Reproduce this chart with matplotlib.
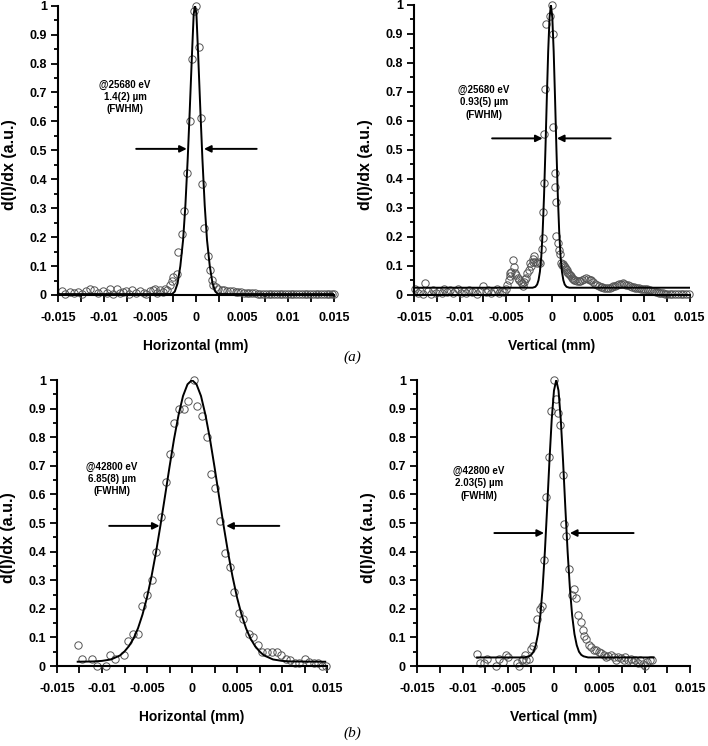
import numpy as np
import matplotlib.pyplot as plt
from matplotlib.ticker import MultipleLocator

plt.rcParams['font.family'] = ['Liberation Sans', 'DejaVu Sans']

# ---- (a) horizontal, 25680 eV: measured points (x mm, dI/dx) and fit
tl_pts = [(-0.0146, 0.015), (-0.0142, 0.005), (-0.0137, 0.011), (-0.0133, 0.006), (-0.0128, 0.011),
          (-0.0124, 0.004), (-0.0120, 0.015), (-0.0115, 0.021), (-0.0111, 0.018), (-0.0106, 0.008),
          (-0.0101, 0.014), (-0.0097, 0.008), (-0.0093, 0.020), (-0.0090, 0.005), (-0.0086, 0.021),
          (-0.0083, 0.006), (-0.0079, 0.011), (-0.0076, 0.015), (-0.0073, 0.004), (-0.0069, 0.018),
          (-0.0065, 0.008), (-0.0061, 0.015), (-0.0057, 0.008), (-0.0054, 0.004), (-0.0050, 0.012),
          (-0.0047, 0.018), (-0.0045, 0.021), (-0.0042, 0.006), (-0.0039, 0.018), (-0.0036, 0.010),
          (-0.0034, 0.022), (-0.0031, 0.018), (-0.0028, 0.035), (-0.00265, 0.050), (-0.0025, 0.062),
          (-0.0021, 0.073), (-0.0019, 0.150), (-0.00155, 0.210), (-0.0013, 0.290), (-0.0010, 0.420),
          (-0.0007, 0.600), (-0.0004, 0.817), (-0.0002, 0.980), (0.0000, 1.000), (0.0003, 0.856),
          (0.0005, 0.610), (0.0007, 0.385), (0.0009, 0.230), (0.0013, 0.135), (0.0015, 0.088),
          (0.0017, 0.052), (0.0019, 0.035), (0.0022, 0.027), (0.0024, 0.022), (0.0028, 0.018),
          (0.0031, 0.016), (0.0034, 0.015), (0.0037, 0.013), (0.0040, 0.012), (0.0043, 0.011),
          (0.0046, 0.010), (0.0049, 0.009), (0.0052, 0.008), (0.0055, 0.007), (0.0058, 0.007),
          (0.0061, 0.006), (0.0064, 0.006), (0.0067, 0.005), (0.0070, 0.005), (0.0073, 0.005),
          (0.0076, 0.004), (0.0079, 0.004), (0.0082, 0.004), (0.0085, 0.004), (0.0088, 0.003),
          (0.0091, 0.003), (0.0094, 0.004), (0.0097, 0.003), (0.0100, 0.003), (0.0103, 0.003),
          (0.0106, 0.003), (0.0109, 0.002), (0.0112, 0.003), (0.0115, 0.002), (0.0118, 0.003),
          (0.0121, 0.002), (0.0124, 0.002), (0.0127, 0.003), (0.0130, 0.002), (0.0133, 0.002),
          (0.0136, 0.002), (0.0139, 0.002), (0.0142, 0.002), (0.0145, 0.002), (0.0148, 0.002),
          (0.0150, 0.002)]
tl_fit = [(-0.0150, 0.003), (-0.0026, 0.003), (-0.0023, 0.012), (-0.0020, 0.040), (-0.0017, 0.100),
          (-0.0014, 0.190), (-0.00115, 0.310), (-0.0009, 0.470), (-0.0007, 0.620), (-0.00045, 0.820),
          (-0.00025, 0.970), (-0.0001, 1.000), (0.00005, 0.970), (0.00025, 0.820), (0.0005, 0.620),
          (0.0007, 0.470), (0.00095, 0.310), (0.0012, 0.190), (0.0015, 0.100), (0.0018, 0.040),
          (0.0021, 0.012), (0.0024, 0.003), (0.0150, 0.003)]

# ---- (a) vertical, 25680 eV
tr_pts = [(-0.0149, 0.020), (-0.0146, 0.008), (-0.0143, 0.015), (-0.0140, 0.005), (-0.0138, 0.040),
          (-0.0135, 0.012), (-0.0132, 0.004), (-0.0129, 0.018), (-0.0126, 0.008), (-0.0123, 0.014),
          (-0.0120, 0.006), (-0.0117, 0.020), (-0.0114, 0.010), (-0.0111, 0.016), (-0.0108, 0.006),
          (-0.0105, 0.012), (-0.0102, 0.020), (-0.0099, 0.008), (-0.0096, 0.014), (-0.0093, 0.006),
          (-0.0090, 0.018), (-0.0087, 0.010), (-0.0084, 0.015), (-0.0081, 0.005), (-0.0078, 0.012),
          (-0.0075, 0.030), (-0.0072, 0.010), (-0.0069, 0.018), (-0.0066, 0.006), (-0.0063, 0.014),
          (-0.0060, 0.020), (-0.0057, 0.008), (-0.0054, 0.015), (-0.0052, 0.010), (-0.0050, 0.020),
          (-0.0049, 0.035), (-0.0047, 0.050), (-0.0046, 0.065), (-0.0045, 0.075), (-0.0044, 0.080),
          (-0.0042, 0.120), (-0.0041, 0.095), (-0.0040, 0.075), (-0.0039, 0.070), (-0.0037, 0.060),
          (-0.0036, 0.050), (-0.0034, 0.045), (-0.0033, 0.040), (-0.0031, 0.030), (-0.0030, 0.045),
          (-0.0029, 0.055), (-0.0028, 0.060), (-0.0027, 0.075), (-0.0025, 0.085), (-0.0024, 0.110),
          (-0.0023, 0.100), (-0.0021, 0.115), (-0.0020, 0.125), (-0.0019, 0.135), (-0.0018, 0.115),
          (-0.0016, 0.110), (-0.0014, 0.115), (-0.0013, 0.110), (-0.0011, 0.160), (-0.0010, 0.195),
          (-0.0010, 0.285), (-0.0009, 0.387), (-0.0008, 0.555), (-0.0007, 0.710), (-0.0006, 0.933),
          (-0.0002, 0.963), (0.0000, 1.000), (0.00015, 0.899), (0.00015, 0.578), (0.0003, 0.372),
          (0.00037, 0.420), (0.0005, 0.320), (0.0005, 0.205), (0.0007, 0.180), (0.0008, 0.155),
          (0.0009, 0.140), (0.0010, 0.110), (0.0011, 0.105), (0.0012, 0.108), (0.0013, 0.100),
          (0.0014, 0.095), (0.0015, 0.090), (0.0016, 0.086), (0.0017, 0.080), (0.0018, 0.075),
          (0.0019, 0.072), (0.0020, 0.070), (0.0021, 0.064), (0.0022, 0.060), (0.0023, 0.056),
          (0.0024, 0.053), (0.0025, 0.052), (0.0027, 0.049), (0.0029, 0.047), (0.0031, 0.048),
          (0.0033, 0.051), (0.0035, 0.055), (0.0037, 0.058), (0.0039, 0.056), (0.0041, 0.053),
          (0.0043, 0.050), (0.0045, 0.045), (0.0047, 0.038), (0.0049, 0.034), (0.0051, 0.031),
          (0.0053, 0.028), (0.0055, 0.027), (0.0057, 0.025), (0.0059, 0.024), (0.0061, 0.023),
          (0.0063, 0.025), (0.0065, 0.027), (0.0067, 0.030), (0.0069, 0.032), (0.0071, 0.035),
          (0.0073, 0.037), (0.0075, 0.039), (0.0077, 0.040), (0.0079, 0.039), (0.0081, 0.036),
          (0.0083, 0.033), (0.0085, 0.030), (0.0087, 0.028), (0.0089, 0.027), (0.0091, 0.025),
          (0.0093, 0.024), (0.0095, 0.023), (0.0097, 0.022), (0.0099, 0.022), (0.0101, 0.021),
          (0.0103, 0.020), (0.0105, 0.018), (0.0107, 0.016), (0.0109, 0.014), (0.0111, 0.012),
          (0.0113, 0.011), (0.0115, 0.009), (0.0117, 0.008), (0.0119, 0.007), (0.0121, 0.006),
          (0.0123, 0.005), (0.0125, 0.005), (0.0128, 0.004), (0.0131, 0.004), (0.0134, 0.003),
          (0.0137, 0.003), (0.0140, 0.003), (0.0143, 0.002), (0.0146, 0.002), (0.0149, 0.002)]
tr_fit = [(-0.0150, 0.025), (-0.0021, 0.025), (-0.0018, 0.028), (-0.0016, 0.036), (-0.00145, 0.051),
          (-0.0013, 0.080), (-0.00115, 0.132), (-0.0010, 0.218), (-0.00085, 0.342), (-0.0007, 0.500),
          (-0.00055, 0.675), (-0.0004, 0.839), (-0.00025, 0.957), (-0.0001, 1.000), (0.00005, 0.957),
          (0.0002, 0.839), (0.00035, 0.675), (0.0005, 0.500), (0.00065, 0.342), (0.0008, 0.218),
          (0.00095, 0.132), (0.0011, 0.080), (0.00125, 0.051), (0.0014, 0.036), (0.0016, 0.028),
          (0.0019, 0.025), (0.0150, 0.025)]

# ---- (b) horizontal, 42800 eV
bl_pts = [(-0.0127, 0.075), (-0.0122, 0.026), (-0.0111, 0.026), (-0.0106, 0.000), (-0.0096, 0.000),
          (-0.0091, 0.038), (-0.0086, 0.024), (-0.0076, 0.038), (-0.0071, 0.088), (-0.0066, 0.111),
          (-0.0060, 0.111), (-0.0056, 0.210), (-0.0050, 0.249), (-0.0045, 0.300), (-0.0040, 0.400),
          (-0.0034, 0.520), (-0.0029, 0.643), (-0.0024, 0.740), (-0.0020, 0.850), (-0.0014, 0.900),
          (-0.0009, 0.900), (-0.0004, 0.925), (0.0002, 1.000), (0.0006, 0.910), (0.0011, 0.875),
          (0.0017, 0.800), (0.0021, 0.673), (0.0026, 0.623), (0.0031, 0.506), (0.0037, 0.395),
          (0.0042, 0.346), (0.0047, 0.258), (0.0052, 0.186), (0.0057, 0.163), (0.0063, 0.113),
          (0.0068, 0.100), (0.0073, 0.075), (0.0078, 0.050), (0.0083, 0.050), (0.0089, 0.050),
          (0.0094, 0.050), (0.0099, 0.037), (0.0104, 0.026), (0.0109, 0.020), (0.0114, 0.012),
          (0.0119, 0.012), (0.0125, 0.026), (0.0130, 0.015), (0.0135, 0.012), (0.0140, 0.012),
          (0.0144, 0.000), (0.0149, 0.000)]
bl_fit = [(-0.0127, 0.015), (-0.0110, 0.016), (-0.0100, 0.018), (-0.0090, 0.023), (-0.0080, 0.037),
          (-0.0075, 0.051), (-0.0070, 0.070), (-0.0065, 0.096), (-0.0060, 0.132), (-0.0055, 0.180),
          (-0.0050, 0.240), (-0.0045, 0.313), (-0.0040, 0.398), (-0.0035, 0.493), (-0.0030, 0.594),
          (-0.0025, 0.696), (-0.0020, 0.793), (-0.0015, 0.877), (-0.0010, 0.944), (-0.0005, 0.985),
          (0.0000, 1.000), (0.0005, 0.985), (0.0010, 0.944), (0.0015, 0.877), (0.0020, 0.793),
          (0.0025, 0.696), (0.0030, 0.594), (0.0035, 0.493), (0.0040, 0.398), (0.0045, 0.313),
          (0.0050, 0.240), (0.0055, 0.180), (0.0060, 0.132), (0.0065, 0.096), (0.0070, 0.070),
          (0.0075, 0.051), (0.0080, 0.037), (0.0090, 0.023), (0.0100, 0.018), (0.0110, 0.016),
          (0.0148, 0.015)]

# ---- (b) vertical, 42800 eV
br_pts = [(-0.0084, 0.042), (-0.0081, 0.010), (-0.0076, 0.012), (-0.0073, 0.025), (-0.0063, 0.000),
          (-0.0060, 0.025), (-0.0056, 0.015), (-0.0052, 0.040), (-0.0050, 0.030), (-0.0040, 0.012),
          (-0.0038, 0.000), (-0.0035, 0.020), (-0.0033, 0.025), (-0.0031, 0.040), (-0.0030, 0.020),
          (-0.0027, 0.025), (-0.0025, 0.060), (-0.0022, 0.070), (-0.0018, 0.163), (-0.0015, 0.200),
          (-0.0013, 0.210), (-0.0010, 0.370), (-0.0008, 0.590), (-0.0005, 0.730), (-0.0003, 0.890),
          (0.0000, 1.000), (0.0003, 0.935), (0.0005, 0.883), (0.0007, 0.843), (0.0010, 0.667),
          (0.0012, 0.495), (0.0014, 0.455), (0.0017, 0.340), (0.0020, 0.250), (0.0022, 0.268),
          (0.0025, 0.238), (0.0027, 0.180), (0.0030, 0.153), (0.0032, 0.125), (0.0034, 0.105),
          (0.0036, 0.093), (0.0039, 0.075), (0.0041, 0.065), (0.0044, 0.056), (0.0047, 0.055),
          (0.0050, 0.050), (0.0052, 0.045), (0.0055, 0.040), (0.0058, 0.030), (0.0060, 0.035),
          (0.0063, 0.040), (0.0066, 0.030), (0.0069, 0.022), (0.0071, 0.030), (0.0074, 0.027),
          (0.0077, 0.022), (0.0079, 0.030), (0.0082, 0.022), (0.0085, 0.025), (0.0087, 0.015),
          (0.0090, 0.022), (0.0093, 0.012), (0.0095, 0.022), (0.0098, 0.008), (0.0100, 0.000),
          (0.0103, 0.015), (0.0106, 0.022), (0.0108, 0.022)]
br_fit = [(-0.0084, 0.030), (-0.0032, 0.030), (-0.0027, 0.034), (-0.00245, 0.039), (-0.0022, 0.050),
          (-0.00195, 0.073), (-0.0017, 0.112), (-0.00145, 0.176), (-0.0012, 0.272), (-0.00095, 0.400),
          (-0.0007, 0.553), (-0.00045, 0.716), (-0.0002, 0.861), (0.00005, 0.963), (0.0003, 1.000),
          (0.00055, 0.963), (0.0008, 0.861), (0.00105, 0.716), (0.0013, 0.553), (0.00155, 0.400),
          (0.0018, 0.272), (0.00205, 0.176), (0.0023, 0.112), (0.00255, 0.073), (0.0028, 0.050),
          (0.00305, 0.039), (0.0033, 0.034), (0.0038, 0.030), (0.0110, 0.030)]

xtick_vals = [-0.015, -0.01, -0.005, 0, 0.005, 0.01, 0.015]
xtick_txt = ['-0.015', '-0.01', '-0.005', '0', '0.005', '0.01', '0.015']
ytick_vals = [0, 0.1, 0.2, 0.3, 0.4, 0.5, 0.6, 0.7, 0.8, 0.9, 1]
ytick_txt = ['0', '0.1', '0.2', '0.3', '0.4', '0.5', '0.6', '0.7', '0.8', '0.9', '1']

fig = plt.figure(figsize=(7.08, 7.46), dpi=100)


def panel(rect, pts, fit, xlabel, note, note_pos, arr_y, arr_left, arr_right):
    ax = fig.add_axes(rect)
    px, py = zip(*pts)
    fx, fy = zip(*fit)
    ax.plot(fx, fy, '-', color='black', lw=1.4, zorder=3)
    ax.plot(px, py, 'o', mfc='none', mec='#555555', mew=0.7, ms=5.3, clip_on=False, zorder=2)
    ax.set_xlim(-0.015, 0.015)
    ax.set_ylim(0, 1)
    for s in ['top', 'right']:
        ax.spines[s].set_visible(False)
    for s in ['left', 'bottom']:
        ax.spines[s].set_linewidth(1.5)
    ax.set_xticks(xtick_vals)
    ax.set_xticklabels(xtick_txt, fontweight='bold', fontsize=9)
    ax.set_yticks(ytick_vals)
    ax.set_yticklabels(ytick_txt, fontweight='bold', fontsize=9)
    ax.xaxis.set_minor_locator(MultipleLocator(0.0025))
    ax.yaxis.set_minor_locator(MultipleLocator(0.05))
    ax.tick_params(axis='x', which='both', direction='out', length=5, width=1.3, pad=7)
    ax.tick_params(axis='y', which='major', direction='out', length=5, width=1.3, pad=3)
    ax.tick_params(axis='y', which='minor', direction='out', length=3, width=1.3)
    ax.set_xlabel(xlabel, fontweight='bold', fontsize=10, labelpad=11)
    ax.set_ylabel('d(I)/dx (a.u.)', fontweight='bold', fontsize=11.5)
    ax.yaxis.set_label_coords(-41 / (rect[2] * 708), 0.45)
    ax.text(note_pos[0], note_pos[1], note, ha='center', va='top', fontsize=7,
            fontweight='bold', linespacing=1.3)
    aprops = dict(arrowstyle='-|>', color='black', lw=1.4, mutation_scale=10,
                  shrinkA=0, shrinkB=0)
    ax.annotate('', xy=(arr_left[1], arr_y), xytext=(arr_left[0], arr_y), arrowprops=aprops)
    ax.annotate('', xy=(arr_right[1], arr_y), xytext=(arr_right[0], arr_y), arrowprops=aprops)
    return ax


panel([0.0819, 0.6046, 0.3898, 0.3878], tl_pts, tl_fit, 'Horizontal (mm)',
      '@25680 eV\n1.4(2) \u00b5m\n(FWHM)', (-0.0077, 0.745), 0.505,
      (-0.0065, -0.0010), (0.0066, 0.00087))
panel([0.5847, 0.6046, 0.3895, 0.3887], tr_pts, tr_fit, 'Vertical (mm)',
      '@25680 eV\n0.93(5) \u00b5m\n(FWHM)', (-0.0074, 0.725), 0.54,
      (-0.0065, -0.0010), (0.0064, 0.00055))
panel([0.0805, 0.1072, 0.3814, 0.3834], bl_pts, bl_fit, 'Horizontal (mm)',
      '@42800 eV\n6.85(8) \u00b5m\n(FWHM)', (-0.0089, 0.715), 0.49,
      (-0.0092, -0.0036), (0.0097, 0.0038))
panel([0.589, 0.1072, 0.3856, 0.3834], br_pts, br_fit, 'Vertical (mm)',
      '@42800 eV\n2.03(5) \u00b5m\n(FWHM)', (-0.0082, 0.70), 0.465,
      (-0.0065, -0.00104), (0.0088, 0.0018))

fig.text(352 / 708, 1 - 357 / 746, '(a)', ha='center', va='center', fontsize=11,
         family='Liberation Serif', style='italic')
fig.text(352 / 708, 1 - 733 / 746, '(b)', ha='center', va='center', fontsize=11,
         family='Liberation Serif', style='italic')

fig.savefig('out.png', dpi=100)
